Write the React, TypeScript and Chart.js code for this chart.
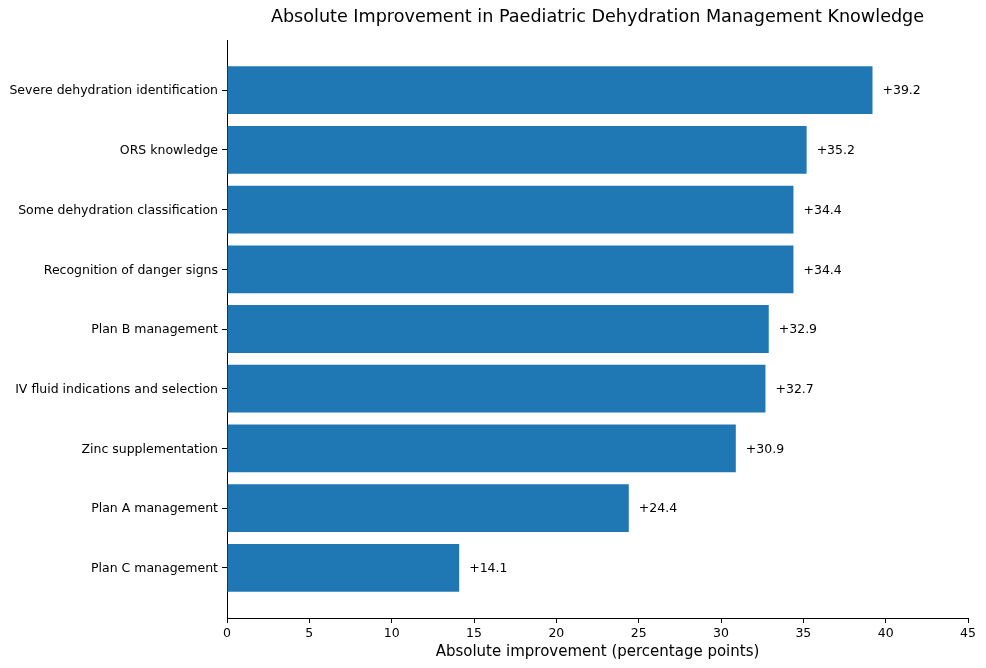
import { useEffect, useRef } from 'react';
import { Chart, registerables } from 'chart.js';

Chart.register(...registerables);

const categories = [
  'Severe dehydration identification',
  'ORS knowledge',
  'Some dehydration classification',
  'Recognition of danger signs',
  'Plan B management',
  'IV fluid indications and selection',
  'Zinc supplementation',
  'Plan A management',
  'Plan C management',
];
const improvement = [39.2, 35.2, 34.4, 34.4, 32.9, 32.7, 30.9, 24.4, 14.1];
const xTicks = [0, 5, 10, 15, 20, 25, 30, 35, 40, 45];

const TITLE = 'Absolute Improvement in Paediatric Dehydration Management Knowledge';
const FONT = '"DejaVu Sans", sans-serif';

export default function App() {
  const chartRef = useRef<HTMLCanvasElement>(null);
  const chartInstance = useRef<Chart | null>(null);

  useEffect(() => {
    if (!chartRef.current) return;
    document.body.style.margin = '0';

    if (chartInstance.current) {
      chartInstance.current.destroy();
    }

    // title + value labels drawn by hand, matplotlib style
    const extras = {
      id: 'extras',
      afterDraw(chart: any) {
        const { ctx, chartArea } = chart;
        ctx.save();
        ctx.fillStyle = '#000';
        ctx.font = `17.6px ${FONT}`;
        ctx.textAlign = 'center';
        ctx.textBaseline = 'middle';
        ctx.fillText(TITLE, (chartArea.left + chartArea.right) / 2, 17);

        ctx.font = `12.5px ${FONT}`;
        ctx.textAlign = 'left';
        const xs = chart.scales.x;
        const ys = chart.scales.y;
        improvement.forEach((v, i) => {
          ctx.fillText(`+${v.toFixed(1)}`, xs.getPixelForValue(v) + 10, ys.getPixelForValue(i) + 1);
        });
        ctx.restore();
      },
    };

    chartInstance.current = new Chart(chartRef.current, {
      type: 'bar',
      data: {
        datasets: [
          {
            data: improvement.map((v, i) => ({ x: v, y: i })),
            backgroundColor: '#1f77b4',
            borderWidth: 0,
            barPercentage: 0.8,
            categoryPercentage: 1.0,
          },
        ],
      },
      options: {
        indexAxis: 'y',
        animation: false,
        responsive: false,
        maintainAspectRatio: false,
        layout: { padding: { top: 40, right: 18, left: 0, bottom: 7 } },
        plugins: {
          legend: { display: false },
          tooltip: { enabled: false },
        },
        scales: {
          x: {
            type: 'linear',
            min: 0,
            max: 45,
            afterBuildTicks: (scale: any) => {
              scale.ticks = xTicks.map((value) => ({ value }));
            },
            afterFit: (scale: any) => {
              scale.height = 43;
            },
            border: { display: true, color: '#000', width: 1 },
            grid: { display: true, drawOnChartArea: false, drawTicks: true, tickLength: 5, color: '#000' },
            ticks: { color: '#000', font: { family: FONT, size: 12.5 }, padding: 3, maxRotation: 0 },
            title: {
              display: true,
              text: 'Absolute improvement (percentage points)',
              color: '#000',
              font: { family: FONT, size: 15 },
              padding: { top: 0, bottom: 0 },
            },
          },
          y: {
            type: 'linear',
            reverse: true,
            offset: false,
            min: -0.84,
            max: 8.84,
            afterBuildTicks: (scale: any) => {
              scale.ticks = categories.map((_, i) => ({ value: i }));
            },
            afterFit: (scale: any) => {
              scale.width = 227;
            },
            border: { display: true, color: '#000', width: 1 },
            grid: {
              display: true,
              offset: false,
              drawOnChartArea: false,
              drawTicks: true,
              tickLength: 5,
              color: '#000',
            },
            ticks: {
              color: '#000',
              font: { family: FONT, size: 12.5 },
              padding: 4,
              labelOffset: 1,
              callback: (value: any) => categories[value as number] ?? '',
            },
          },
        },
      },
      plugins: [extras],
    });

    return () => {
      if (chartInstance.current) {
        chartInstance.current.destroy();
        chartInstance.current = null;
      }
    };
  }, []);

  return (
    <div style={{ width: 986, height: 668, background: '#fff' }}>
      <canvas ref={chartRef} width={986} height={668} style={{ width: 986, height: 668 }}></canvas>
    </div>
  );
}
